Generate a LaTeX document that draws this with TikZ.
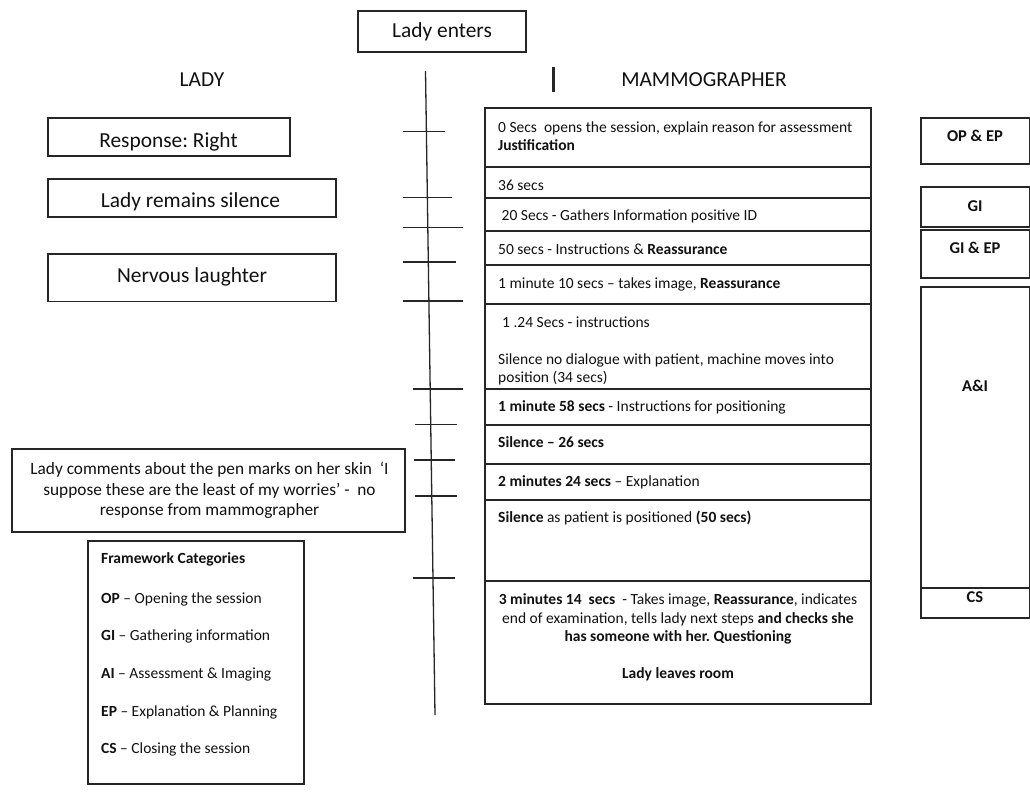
\documentclass[tikz,border=0pt]{standalone}
\usepackage{fontspec}
\setmainfont{Carlito}
\frenchspacing
\newcommand\fsBig{\fontsize{21.4}{25}\selectfont}
\newcommand\fsMid{\fontsize{17.3}{20}\selectfont}
\newcommand\fsRow{\fontsize{15.5}{18}\selectfont}
\newcommand\fsLeg{\fontsize{15.5}{18}\selectfont}
\newcommand\fsCat{\fontsize{16.5}{18}\selectfont}
\definecolor{edge}{HTML}{262626}
\definecolor{ink}{HTML}{111111}
\begin{document}
\begin{tikzpicture}[x=1pt,y=-1pt,
  box/.style={draw=edge,line width=1.4pt,anchor=north west,inner sep=0pt,outer sep=0pt},
  rowtxt/.style={anchor=mid west,inner sep=0pt,font=\fsRow,text=ink,yshift=-3pt},
  ctrtxt/.style={anchor=mid,inner sep=0pt,font=\fsRow,text=ink,yshift=-3pt},
  bigtxt/.style={anchor=mid,inner sep=0pt,font=\fsBig,text=ink,yshift=-4.5pt},
  midtxt/.style={anchor=mid,inner sep=0pt,font=\fsMid,text=ink,yshift=-3.5pt},
  legtxt/.style={anchor=mid west,inner sep=0pt,font=\fsLeg,text=ink,yshift=-3pt},
  cattxt/.style={anchor=mid,inner sep=0pt,font=\fsCat\bfseries,text=ink,yshift=-4pt},
  tick/.style={draw=edge,line width=1.3pt}]
\useasboundingbox (0,0) rectangle (1030,795);
\fill[white] (0,0) rectangle (1030,795);

% top
\node[box,minimum width=168,minimum height=41] (enter) at (358,11) {};
\node[bigtxt] (entertxt) at (442,31) {Lady enters};
\node[bigtxt] (lady) at (202,80) {LADY};
\node[bigtxt] (mammo) at (704,80) {MAMMOGRAPHER};

% timeline
\coordinate (tl0) at (425.5,71);
\coordinate (tl1) at (435,715);
\draw[edge,line width=1.3pt] (tl0) -- (tl1);
\coordinate (bar0) at (553.3,67);
\coordinate (bar1) at (553.3,92);
\draw[edge,line width=2.6pt] (bar0) -- (bar1);

% ticks
\foreach \y/\a/\b in {131.5/403/445, 197.7/403/452, 227.7/403/463, 262/403/456, 301/403/463,
                      389/413/463, 424.7/415/457, 460/414/455, 496/415/457, 578/413/455}
  \draw[tick] (\a,\y) -- (\b,\y);

% lady boxes
\node[box,minimum width=242,minimum height=38] (resp) at (48,118) {};
\node[bigtxt] (resptxt) at (168.5,140.5) {Response: Right};
\node[box,minimum width=288,minimum height=38] (silent) at (48,179) {};
\node[bigtxt] (silenttxt) at (190.5,200.5) {Lady remains silence};
\node[box,minimum width=288,minimum height=47.5] (laugh) at (48,254) {};
\node[bigtxt] (laughtxt) at (192,275.5) {Nervous laughter};

% comment box
\node[box,minimum width=393,minimum height=83] (comment) at (12,449) {};
\node[midtxt] (c1) at (209.5,468.5) {Lady comments about the pen marks on her skin \ ‘I};
\node[midtxt] (c2) at (209.5,489.3) {suppose these are the least of my worries’ - \ no};
\node[midtxt] (c3) at (209.5,510) {response from mammographer};

% legend
\node[box,minimum width=216,minimum height=243] (legend) at (88,541) {};
\node[legtxt] (lg0) at (101,558.5) {\textbf{Framework Categories}};
\node[legtxt] (lg1) at (101,598) {\textbf{OP} – Opening the session};
\node[legtxt] (lg2) at (101,635.5) {\textbf{GI} – Gathering information};
\node[legtxt] (lg3) at (101,673) {\textbf{AI} – Assessment \& Imaging};
\node[legtxt] (lg4) at (101,710.7) {\textbf{EP} – Explanation \& Planning};
\node[legtxt] (lg5) at (101,748) {\textbf{CS} – Closing the session};

% mammographer rows
\node[box,minimum width=386,minimum height=59] (r1) at (485,108) {};
\node[box,minimum width=386,minimum height=31] (r2) at (485,167) {};
\node[box,minimum width=386,minimum height=33] (r3) at (485,198) {};
\node[box,minimum width=386,minimum height=34] (r4) at (485,231) {};
\node[box,minimum width=386,minimum height=39] (r5) at (485,265) {};
\node[box,minimum width=386,minimum height=85] (r6) at (485,304) {};
\node[box,minimum width=386,minimum height=36] (r7) at (485,389) {};
\node[box,minimum width=386,minimum height=39] (r8) at (485,425) {};
\node[box,minimum width=386,minimum height=36] (r9) at (485,464) {};
\node[box,minimum width=386,minimum height=81] (r10) at (485,500) {};
\node[box,minimum width=386,minimum height=123] (r11) at (485,581) {};

\node[rowtxt] (t1a) at (498,127.5) {0 Secs \ opens the session, explain reason for assessment};
\node[rowtxt] (t1b) at (498,145) {\textbf{Justification}};
\node[rowtxt] (t2) at (498,185) {36 secs};
\node[rowtxt] (t3) at (501.5,215) {20 Secs - Gathers Information positive ID};
\node[rowtxt] (t4) at (498,249) {50 secs - Instructions \& \textbf{Reassurance}};
\node[rowtxt] (t5) at (498,283) {1 minute 10 secs – takes image, \textbf{Reassurance}};
\node[rowtxt] (t6a) at (502,322) {1 .24 Secs - instructions};
\node[rowtxt] (t6b) at (498,359) {Silence no dialogue with patient, machine moves into};
\node[rowtxt] (t6c) at (498,377.5) {position (34 secs)};
\node[rowtxt] (t7) at (498,406.5) {\textbf{1 minute 58 secs} - Instructions for positioning};
\node[rowtxt] (t8) at (498,442) {\textbf{Silence – 26 secs}};
\node[rowtxt] (t9) at (498,481) {\textbf{2 minutes 24 secs} – Explanation};
\node[rowtxt] (t10) at (498,517) {\textbf{Silence} as patient is positioned \textbf{(50 secs)}};
\node[ctrtxt] (t11a) at (678,599.3) {\textbf{3 minutes 14 \ secs} \ - Takes image, \textbf{Reassurance}, indicates};
\node[ctrtxt] (t11b) at (678,618) {end of examination, tells lady next steps \textbf{and checks she}};
\node[ctrtxt] (t11c) at (678,636) {\textbf{has someone with her. Questioning}};
\node[ctrtxt] (t11d) at (678,673) {\textbf{Lady leaves room}};

% categories
\node[box,minimum width=108.5,minimum height=46] (k1) at (921,118) {};
\node[cattxt] (k1t) at (975,135) {OP \& EP};
\node[box,minimum width=108.5,minimum height=40] (k2) at (921,187) {};
\node[cattxt] (k2t) at (975,205) {GI};
\node[box,minimum width=108.5,minimum height=48] (k3) at (921,230) {};
\node[cattxt] (k3t) at (975,247.5) {GI \& EP};
\node[box,minimum width=108.5,minimum height=301] (k4) at (921,287) {};
\node[cattxt] (k4t) at (975,385) {A\&I};
\node[box,minimum width=108.5,minimum height=30] (k5) at (921,588) {};
\node[cattxt] (k5t) at (975,596.5) {CS};
\end{tikzpicture}
\end{document}
